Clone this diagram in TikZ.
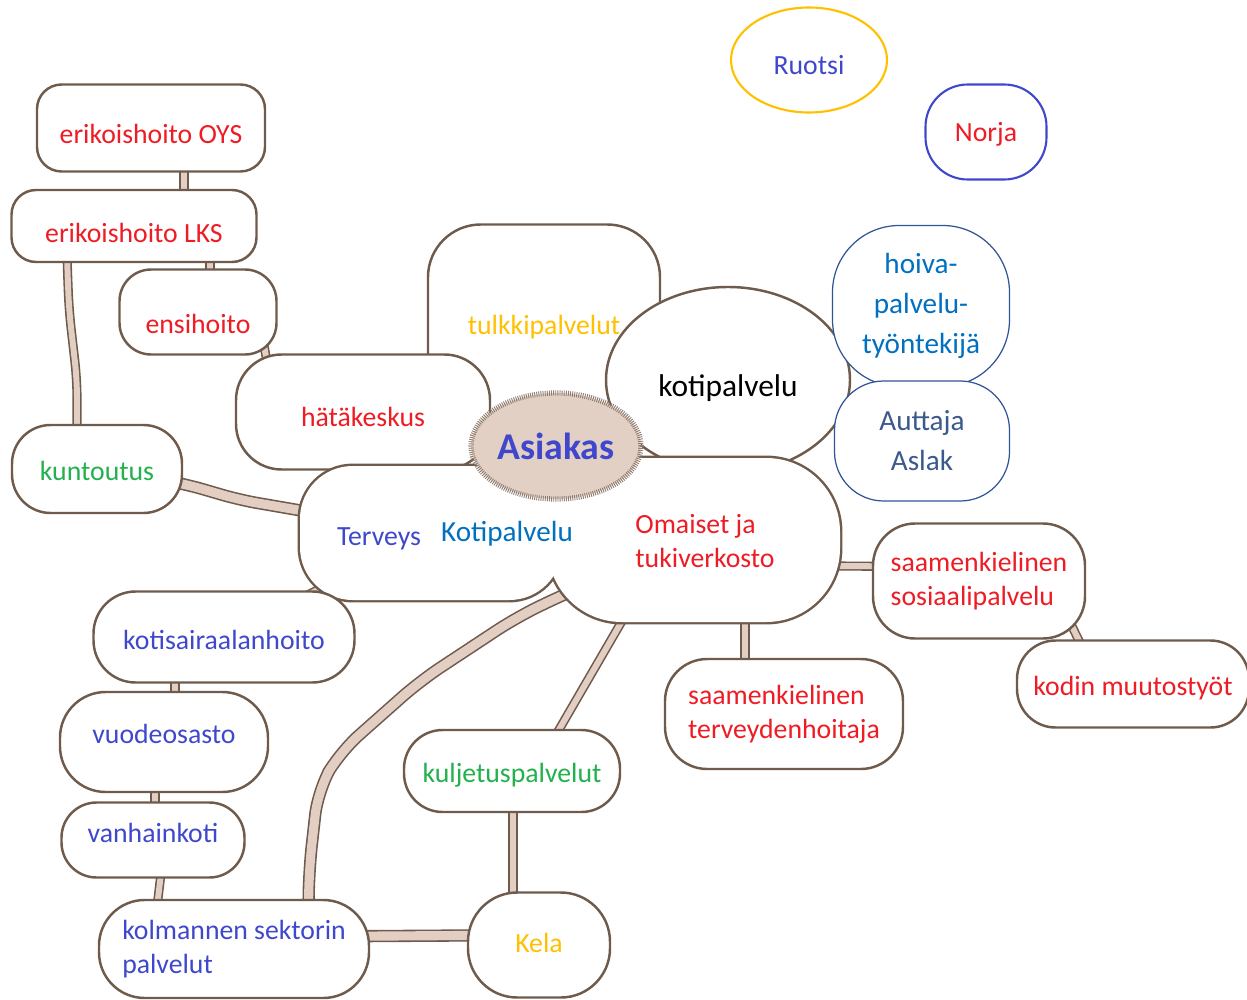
\documentclass[tikz,border=0pt]{standalone}
\usepackage{fontspec}
\setmainfont{Carlito}
\usetikzlibrary{shapes.geometric}
\definecolor{edgec}{HTML}{6F5B4C}
\definecolor{bandc}{HTML}{E2CEC2}
\definecolor{asfill}{HTML}{E3D0C4}
\definecolor{hatc}{HTML}{8C7B70}
\definecolor{rd}{HTML}{EE1C24}
\definecolor{vio}{HTML}{3F48CC}
\definecolor{kblue}{HTML}{0070C0}
\definecolor{grn}{HTML}{22B14C}
\definecolor{yel}{HTML}{FFC000}
\definecolor{slate}{HTML}{3B5A8C}
\definecolor{thinb}{HTML}{2F5597}
\pgfdeclarelayer{bg}
\pgfsetlayers{bg,main}
\tikzset{wh/.style 2 args={minimum width=#1*0.02cm, minimum height=#2*0.02cm},
  txh/.style={text height=#1, text depth=0pt}}

\begin{document}
\begin{tikzpicture}
[x=0.02cm, y=-0.02cm,%%%%%%%%%%%%%%%%%%%%%%%%%%%%%%
blob/.style={rectangle, draw=edgec, line width=1.4pt, fill=white, inner sep=0pt, outer sep=0pt, align=center, font=\fontsize{15.8}{19.3}\selectfont},
lbl/.style={inner sep=0pt, align=left, font=\fontsize{15.8}{19.3}\selectfont},
big/.style={font=\fontsize{16.6}{22.7}\selectfont},
band/.style={draw=edgec, line width=0.9pt, double=bandc, double distance=3.4pt, line join=round},
wideband/.style={band, double distance=5.2pt},
]%%%%%%%%%%%%%%%%%%%%%%%%%%%%%%
\useasboundingbox (0,0) rectangle (1247,1000);

% middle
\node[blob, wh={232}{195}, rounded corners=30pt, text=yel, txh=14.4pt] (tulk) at (544,322) {tulkkipalvelut};
\node[blob, ellipse, wh={244}{186}, font=\fontsize{17.9}{21}\selectfont, txh=19.3pt] (koti) at (728,380) {kotipalvelu};
\node[blob, wh={254}{115}, rounded corners=26pt, text=rd, txh=16.6pt] (hata) at (363,412) {hätäkeskus};
\node[blob, line width=2.8pt, wh={262}{134}, rounded corners=30pt] (terv) at (431,533) {};
\node[blob, line width=2.8pt, wh={292}{164}, rounded corners=42pt] (omai) at (694,540) {};
\fill[white, rounded corners=30pt] (terv.south west) rectangle (terv.north east);
\fill[white, rounded corners=42pt] (omai.south west) rectangle (omai.north east);
\node[lbl, text=vio] (terv-t) at (379,539) {Terveys};
\node[lbl, big, text=kblue] (kotp-t) at (507,534) {Kotipalvelu};
\node[lbl, text=rd] (omai-t) at (705,541) {Omaiset ja\\tukiverkosto};
\node[ellipse, wh={170}{106}, inner sep=0pt, fill=asfill, draw=hatc, line width=3pt, dash pattern=on 0.5pt off 0.7pt, text=vio, font=\bfseries\fontsize{21.5}{24}\selectfont] (asia) at (556,446) {Asiakas};

% right
\node[blob, big, draw=thinb, line width=0.7pt, wh={177}{161}, rounded corners=38pt, text=kblue] (hoiv) at (921,306) {hoiva-\\palvelu-\\työntekijä};
\node[blob, big, draw=thinb, line width=0.7pt, wh={175}{120}, rounded corners=28pt, text=slate] (autt) at (922,441) {Auttaja\\Aslak};
\node[blob, ellipse, draw=yel, line width=1.2pt, wh={156}{105}, text=vio, txh=16.6pt] (ruot) at (809,60) {Ruotsi};
\node[blob, draw=vio, line width=1.2pt, wh={121}{95}, rounded corners=24pt, text=rd, txh=11pt] (norj) at (986,132) {Norja};
\node[blob, wh={212}{115}, rounded corners=24pt, text=rd, align=left] (sosi) at (979,581) {saamenkielinen\\sosiaalipalvelu};
\node[blob, wh={232}{87}, rounded corners=22pt, text=rd, txh=13.2pt] (kodi) at (1133,684) {kodin muutostyöt};
\node[blob, wh={238}{110}, rounded corners=24pt, text=rd, align=left] (terh) at (784,714) {saamenkielinen\\terveydenhoitaja};

% left and bottom
\node[blob, wh={228}{87}, rounded corners=14pt, text=rd, txh=17.8pt] (oys) at (151,128) {erikoishoito OYS};
\node[blob, wh={245}{72}, rounded corners=14pt, text=rd, txh=19pt] (lks) at (134,226) {erikoishoito LKS};
\node[blob, wh={157}{85}, rounded corners=18pt, text=rd, txh=24.6pt] (ensi) at (198,312) {ensihoito};
\node[blob, wh={170}{88}, rounded corners=22pt, text=grn, txh=13.2pt] (kunt) at (97,469) {kuntoutus};
\node[blob, wh={261}{91}, rounded corners=24pt, text=vio, txh=14.4pt] (kots) at (224,637) {kotisairaalanhoito};
\node[blob, wh={208}{100}, rounded corners=26pt, text=vio, txh=2pt] (vuod) at (164,742) {vuodeosasto};
\node[blob, wh={183}{75}, rounded corners=20pt, text=vio, txh=3pt] (vanh) at (153,840) {vanhainkoti};
\node[blob, wh={270}{98}, rounded corners=26pt, text=vio, align=left] (kolm) at (234,949) {kolmannen sektorin\\palvelut};
\node[blob, wh={216}{82}, rounded corners=22pt, text=grn, txh=13.2pt] (kulj) at (512,771) {kuljetuspalvelut};
\node[blob, wh={142}{105}, rounded corners=28pt, text=yel, txh=8.8pt] (kela) at (539,945) {Kela};

\begin{pgfonlayer}{bg}
\draw[band] (oys.center -| 184,0) -- (lks.center -| 184,0);
\draw[band] (lks.center -| 210,0) -- (ensi.center -| 210,0);
\draw[band, rounded corners=10pt] (lks.center -| 67,0) -- (67,258) -- (69,310) -- (77,380) -- (kunt.center -| 77,0);
\draw[band] (ensi.center -| 258,0) -- (hata.center -| 276,0);
\draw[wideband, rounded corners=10pt] (kunt.center) -- (185,484) -- (240,500) -- (terv.center);
\draw[band] (terv.center) -- (kots.center);
\draw[band] (kots.center -| 175,0) -- (vuod.center -| 175,0);
\draw[band] (vuod.center -| 155,0) -- (vanh.center -| 155,0);
\draw[band] (vanh.center -| 165,0) -- (kolm.center -| 152,0);
\draw[wideband] (kolm.center |- 0,937) -- (kela.center |- 0,935);
\draw[wideband, rounded corners=14pt] (kolm.center -| 308,0) -- (309,870) -- (318,790) -- (340,752) -- (420,681) -- (517,617) -- (567,593) -- (omai.center);
\draw[band] (omai.center -| 669,0) -- (kulj.center -| 535,0);
\draw[band] (kulj.center -| 513,0) -- (kela.center -| 513,0);
\draw[band] (omai.center -| 745,0) -- (terh.center -| 745,0);
\draw[band] (omai.center |- 0,565) -- (sosi.center |- 0,567);
\draw[band] (sosi.center -| 1050,0) -- (kodi.center -| 1100,0);
\end{pgfonlayer}
\end{tikzpicture}
\end{document}
